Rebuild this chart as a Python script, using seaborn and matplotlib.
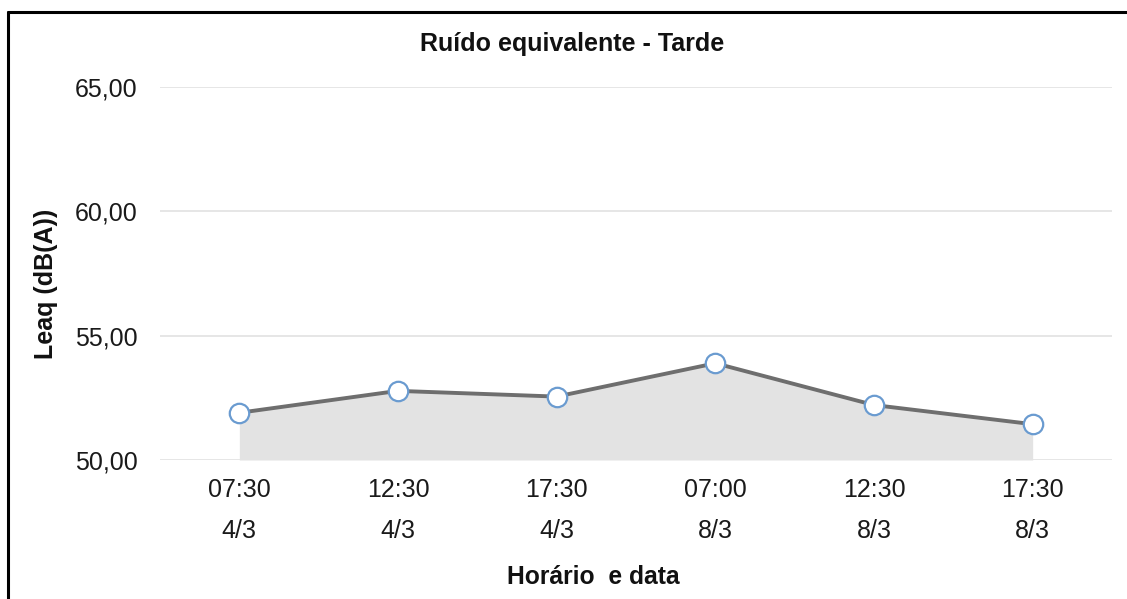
import matplotlib
matplotlib.use("Agg")
import matplotlib.pyplot as plt
from matplotlib.lines import Line2D
import numpy as np
import pandas as pd
import seaborn as sns

# Readings (afternoon equivalent noise level)
horarios = ["07:30", "12:30", "17:30", "07:00", "12:30", "17:30"]
datas = ["4/3", "4/3", "4/3", "8/3", "8/3", "8/3"]
leaq = [51.90, 52.78, 52.55, 53.89, 52.21, 51.44]
y_ticks = [50, 55, 60, 65]

sns.set_theme(style="white")
plt.rcParams["font.family"] = ["Liberation Sans", "DejaVu Sans"]

categorias = [f"{h}\n{d}" for h, d in zip(horarios, datas)]
df = pd.DataFrame({"categoria": categorias, "leaq": leaq})

W, H = 1127, 599
fig = plt.figure(figsize=(W / 100, H / 100), dpi=100)
ax = fig.add_axes([160 / W, 1 - 460 / H, (1112 - 160) / W, (460 - 87) / H])

# grid lines
for v in y_ticks:
    ax.axhline(v, color="#e2e2e2", lw=1.2, zorder=0)

ax.fill_between(df["categoria"], df["leaq"], y_ticks[0],
                color="#e3e3e3", lw=0, zorder=1)
sns.lineplot(data=df, x="categoria", y="leaq", ax=ax, sort=False,
             color="#6e6e6e", lw=2.8, marker="o", markersize=14,
             markerfacecolor="white", markeredgecolor="#6a9bd0",
             markeredgewidth=1.6, zorder=3)

ax.set_xlim(-0.5, len(categorias) - 0.5)
ax.set_ylim(y_ticks[0], y_ticks[-1])
ax.set_yticks(y_ticks)
ax.set_yticklabels([f"{v:.2f}".replace(".", ",") for v in y_ticks])
ax.set_xticks(range(len(categorias)))
ax.set_xticklabels(categorias, linespacing=1.9)

ax.tick_params(axis="y", length=0, pad=16, labelsize=18, labelcolor="#1a1a1a")
ax.tick_params(axis="x", length=0, pad=13, labelsize=18, labelcolor="#1a1a1a")
for s in ax.spines.values():
    s.set_visible(False)

fig.text(572 / W, 1 - 44 / H, "Ruído equivalente - Tarde", fontsize=18,
         fontweight="bold", color="#111111", ha="center", va="center")
ax.set_xlabel("Horário  e data", fontsize=17.7, fontweight="bold", color="#111111")
ax.xaxis.set_label_coords((593 - 160) / 952, -(577 - 460) / 373)
ax.xaxis.label.set_va("center")
ax.set_ylabel("Leaq (dB(A))", fontsize=18, fontweight="bold", color="#111111")
ax.yaxis.set_label_coords(-(160 - 46) / 952, (460 - 284) / 373)
ax.yaxis.label.set_va("center")

# frame around the figure (top and left edges)
fig.add_artist(Line2D([8 / W, 1], [1 - 12 / H, 1 - 12 / H], color="black", lw=2.2))
fig.add_artist(Line2D([8 / W, 8 / W], [0, 1 - 12 / H], color="black", lw=2.2))

fig.savefig("out.png", dpi=100, facecolor="white")
